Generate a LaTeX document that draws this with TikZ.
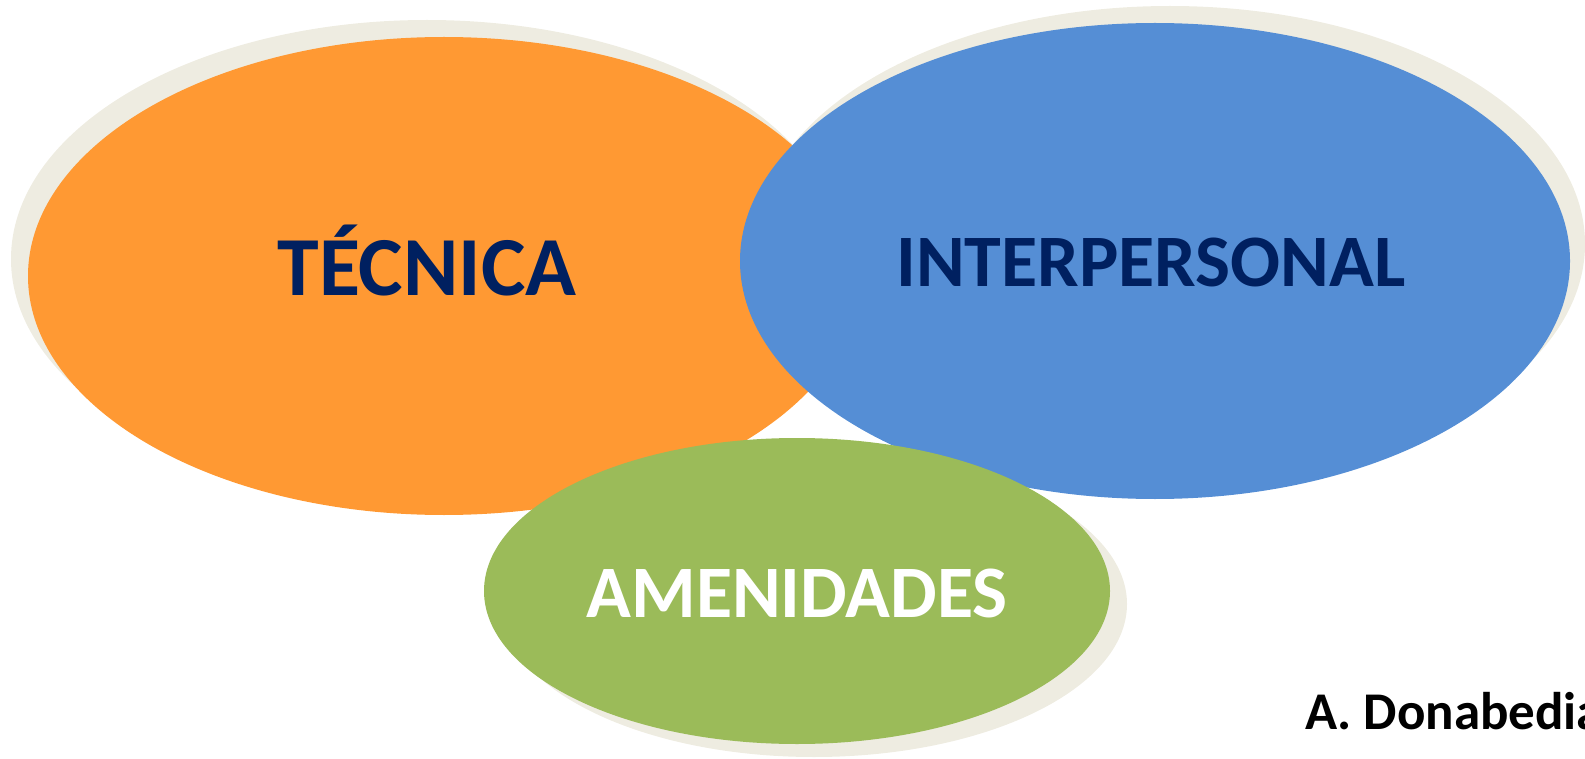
\documentclass[tikz,border=0pt]{standalone}
\usepackage{fontspec}
\setmainfont{Carlito}
\usetikzlibrary{shapes.geometric,shadows}
\definecolor{naranja}{HTML}{FF9933}
\definecolor{azul}{HTML}{558ED5}
\definecolor{verde}{HTML}{9BBB59}
\definecolor{sombra}{HTML}{EEECE1}
\definecolor{marino}{HTML}{002060}

\begin{document}
\begin{tikzpicture}[x=1pt,y=-1pt,
    oval/.style={ellipse,inner sep=0pt},
    rotulo/.style={anchor=base,font=\bfseries\fontsize{74}{80}\selectfont}]
      \useasboundingbox (0,0) rectangle (1585,759);

      \node [oval,fill=naranja,minimum width=832pt,minimum height=478pt,
             drop shadow={shadow xshift=-17pt,shadow yshift=17pt,fill=sombra,opacity=1}] (orange) at (444,276) {};
      \node [oval,fill=azul,minimum width=830pt,minimum height=476pt,
             drop shadow={shadow xshift=15pt,shadow yshift=17pt,fill=sombra,opacity=1}] (blue) at (1155,261) {};
      \node [oval,fill=verde,minimum width=626pt,minimum height=306pt,
             drop shadow={shadow xshift=17pt,shadow yshift=-13pt,fill=sombra,opacity=1}] (green) at (797,591) {};

      \node [rotulo,text=marino,font=\bfseries\fontsize{84}{90}\selectfont] (tecnica) at (427,296) {TÉCNICA};
      \node [rotulo,text=marino] (inter) at (1151,287) {INTERPERSONAL};
      \node [rotulo,text=white] (amen) at (797,617) {AMENIDADES};
      \node [anchor=base west,inner sep=0pt,font=\bfseries\fontsize{53}{60}\selectfont] (autor) at (1305,729) {A. Donabedian};
    \end{tikzpicture}
\end{document}
